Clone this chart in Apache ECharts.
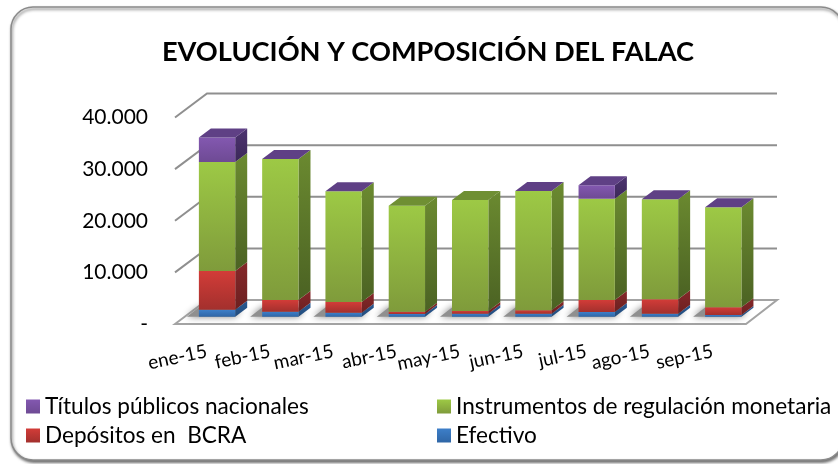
<!DOCTYPE html>
<html>
<head>
<meta charset="utf-8">
<script src="https://cdn.jsdelivr.net/npm/echarts@6/dist/echarts.min.js"></script>
<style>
  html, body { margin: 0; padding: 0; background: #fff; }
  #chart { width: 838px; height: 464px; }
</style>
</head>
<body>
<div id="chart"></div>
<script>
var meses = ['ene-15', 'feb-15', 'mar-15', 'abr-15', 'may-15', 'jun-15', 'jul-15', 'ago-15', 'sep-15'];
var efectivo = [1350, 970, 780, 520, 580, 580, 900, 580, 320];
var depositos = [7500, 2260, 2060, 450, 520, 650, 2330, 2780, 1490];
var instrumentos = [21100, 27310, 21440, 20530, 21500, 23110, 19630, 19370, 19370];
// null = la serie no tiene dato ese mes (tapa verde), 0 = tapa violeta
var titulos = [4780, 0, 0, null, null, 0, 2580, 0, 0];
var yTicks = [0, 10000, 20000, 30000, 40000];
var yLabels = ['-', '10.000', '20.000', '30.000', '40.000'];

var font = 'Lato';
var barRatio = 0.574;
// profundidad de la pared y de la barra
var wallDx = 32, wallDy = -24;
var barDx = 12, barDy = -9;
var offX = 10.4, offY = -7.3;

function grad(a, b) {
  return new echarts.graphic.LinearGradient(0, 0, 0, 1, [
    {offset: 0, color: a}, {offset: 1, color: b}
  ]);
}

function barPoints(api) {
  var i = api.value(0);
  var c0 = api.coord([i, api.value(1)]);
  var c1 = api.coord([i, api.value(2)]);
  var w = api.size([1, 0])[0] * barRatio;
  return {
    xl: c0[0] - w / 2 + offX,
    xr: c0[0] + w / 2 + offX,
    yb: c0[1] + offY,
    yt: c1[1] + offY
  };
}

function stackSeries(name, values, prev, next, colors) {
  var data = [];
  for (var i = 0; i < meses.length; i++) {
    if (values[i] == null) continue;
    var base = 0;
    for (var k = 0; k < prev.length; k++) base += prev[k][i] || 0;
    data.push([i, base, base + values[i]]);
  }
  return {
    name: name,
    type: 'custom',
    clip: false,
    silent: true,
    itemStyle: {color: grad(colors.front[0], colors.front[1])},
    encode: {x: 0, y: [1, 2]},
    data: data,
    renderItem: function (params, api) {
      var p = barPoints(api);
      var kids = [];
      kids.push({
        type: 'polygon',
        shape: {points: [[p.xr, p.yt], [p.xr + barDx, p.yt + barDy], [p.xr + barDx, p.yb + barDy], [p.xr, p.yb]]},
        style: {fill: grad(colors.side[0], colors.side[1])}
      });
      if (p.yb - p.yt > 0) {
        kids.push({
          type: 'rect',
          shape: {x: p.xl, y: p.yt, width: p.xr - p.xl, height: p.yb - p.yt},
          style: {fill: grad(colors.front[0], colors.front[1])}
        });
      }
      // la tapa solo si no hay otra serie encima
      if (!next || next[api.value(0)] == null) {
        kids.push({
          type: 'polygon',
          shape: {points: [[p.xl, p.yt], [p.xl + barDx, p.yt + barDy], [p.xr + barDx, p.yt + barDy], [p.xr, p.yt]]},
          style: {fill: colors.top}
        });
      }
      return {type: 'group', children: kids};
    }
  };
}

var chart = echarts.init(document.getElementById('chart'));
var option = {
  animation: false,
  backgroundColor: '#fff',
  title: {
    text: 'EVOLUCIÓN Y COMPOSICIÓN DEL FALAC',
    left: 423,
    top: 34,
    textAlign: 'center',
    textStyle: {fontFamily: font, fontWeight: 'bold', fontSize: 27.2, color: '#000'}
  },
  graphic: [{
    type: 'rect',
    z: -10,
    silent: true,
    shape: {x: 11, y: 7, width: 832, height: 453, r: 22},
    style: {fill: '#fff', stroke: '#8a8a8a', lineWidth: 1.5, shadowBlur: 3, shadowOffsetX: 1, shadowOffsetY: 2, shadowColor: 'rgba(0,0,0,0.55)'}
  }],
  legend: [{
    left: 21, top: 390, orient: 'vertical', itemGap: 6, itemWidth: 14, itemHeight: 14,
    icon: 'rect',
    data: ['Títulos públicos nacionales', 'Depósitos en  BCRA'],
    textStyle: {fontFamily: font, fontSize: 22.6, color: '#000'}
  }, {
    left: 432, top: 390, orient: 'vertical', itemGap: 6, itemWidth: 14, itemHeight: 14,
    icon: 'rect',
    data: ['Instrumentos de regulación monetaria', 'Efectivo'],
    textStyle: {fontFamily: font, fontSize: 22.6, color: '#000'}
  }],
  grid: {left: 175, right: 93.5, top: 117.5, height: 206.5},
  xAxis: {
    type: 'category',
    data: meses,
    axisLine: {show: false},
    axisTick: {show: false},
    axisLabel: {rotate: 12, margin: 27, interval: 0, fontFamily: font, fontSize: 19, color: '#000'}
  },
  yAxis: {
    type: 'value',
    min: 0,
    max: 40000,
    interval: 10000,
    axisLine: {show: false},
    axisTick: {show: false},
    splitLine: {show: false},
    axisLabel: {
      margin: 27,
      fontFamily: font,
      fontSize: 21,
      color: '#000',
      formatter: function (v) { return yLabels[yTicks.indexOf(v)]; }
    }
  },
  series: [
    {
      // paredes y piso
      type: 'custom',
      silent: true,
      clip: false,
      legendHoverLink: false,
      encode: {y: 0},
      data: yTicks.map(function (v) { return [v]; }),
      renderItem: function (params, api) {
        var y = api.coord([0, api.value(0)])[1];
        var x0 = params.coordSys.x;
        var x1 = x0 + params.coordSys.width + 1.5;
        var kids = [];
        var line = {stroke: '#8f8f8f', lineWidth: 2, fill: null};
        if (api.value(0) === 0) {
          kids.push({
            type: 'polygon',
            shape: {points: [[x0, y], [x0 + wallDx, y + wallDy], [x1 + wallDx - 1, y + wallDy], [x1, y]]},
            style: {fill: '#fff', stroke: '#a3a3a3', lineWidth: 2}
          });
        } else {
          kids.push({
            type: 'polyline',
            shape: {points: [[x0, y], [x0 + wallDx, y + wallDy], [x1 + wallDx - 1, y + wallDy]]},
            style: line
          });
        }
        return {type: 'group', children: kids};
      }
    },
    {
      // sombra de cada barra sobre el piso
      type: 'custom',
      silent: true,
      clip: false,
      encode: {x: 0, y: 1},
      data: meses.map(function (m, i) { return [i, 0]; }),
      renderItem: function (params, api) {
        var c = api.coord([api.value(0), 0]);
        var w = api.size([1, 0])[0] * barRatio;
        var xl = c[0] - w / 2 + offX;
        var yb = c[1] + offY;
        return {
          type: 'polygon',
          shape: {points: [[xl - 12, yb], [xl + 1, yb - 10], [xl + w + 6, yb - 9], [xl + w, yb]]},
          style: {fill: '#8f8f8f', shadowBlur: 7, shadowColor: '#808080'}
        };
      }
    },
    stackSeries('Efectivo', efectivo, [], depositos, {
      front: ['#3d7fc9', '#2f66a6'], side: ['#2a5a92', '#234c7c'], top: '#2a5a92'
    }),
    stackSeries('Depósitos en  BCRA', depositos, [efectivo], instrumentos, {
      front: ['#d23c38', '#a3302d'], side: ['#85282a', '#6c2020'], top: '#85282a'
    }),
    stackSeries('Instrumentos de regulación monetaria', instrumentos, [efectivo, depositos], titulos, {
      front: ['#9dc945', '#7f9b3b'], side: ['#6b8a30', '#4b6223'], top: '#6f8f33'
    }),
    stackSeries('Títulos públicos nacionales', titulos, [efectivo, depositos, instrumentos], null, {
      front: ['#8358b0', '#6e4a94'], side: ['#4c3370', '#3c2858'], top: '#5f4085'
    })
  ]
};
chart.setOption(option);
</script>
</body>
</html>
